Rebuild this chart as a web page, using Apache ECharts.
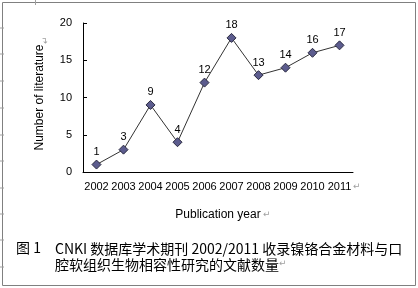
<!DOCTYPE html>
<html>
<head>
<meta charset="utf-8">
<script src="https://cdn.jsdelivr.net/npm/echarts@6/dist/echarts.min.js"></script>
<style>
  html, body { margin: 0; padding: 0; background: #fff; }
  #chart { width: 418px; height: 288px; }
</style>
</head>
<body>
<div id="chart"></div>
<script>
// publication count per year (CNKI)
const years = ["2002", "2003", "2004", "2005", "2006", "2007", "2008", "2009", "2010", "2011"];
const counts = [1, 3, 9, 4, 12, 18, 13, 14, 16, 17];
const yTicks = [0, 5, 10, 15, 20];

const font = "Arial, 'Liberation Sans', sans-serif";
const cjk = "'Noto Sans CJK SC', 'Liberation Sans', sans-serif";
const markGray = "#a0a0a0";

// little paragraph marks down the left edge of the frame
const edgeMarks = [28, 54, 81, 108, 135, 161, 188, 214, 240, 267].map((y) => ({
  type: "line",
  shape: { x1: 0, y1: y, x2: 4, y2: y },
  style: { stroke: markGray, lineWidth: 1 },
}));

const chart = echarts.init(document.getElementById("chart"));
chart.setOption({
  backgroundColor: "#fff",
  animation: false,
  grid: { left: 83, right: 65, top: 23, bottom: 116 },
  xAxis: {
    type: "category",
    data: years,
    boundaryGap: true,
    name: "Publication year",
    nameLocation: "middle",
    nameGap: 37,
    nameTextStyle: { color: "#000", fontSize: 12, fontFamily: font },
    axisLine: { lineStyle: { color: "#000", width: 1 } },
    axisTick: { inside: true, length: 4, alignWithLabel: false, lineStyle: { color: "#000" } },
    axisLabel: { interval: 0, hideOverlap: false, color: "#000", fontSize: 11, fontFamily: font, margin: 9 },
  },
  yAxis: {
    type: "value",
    min: yTicks[0],
    max: yTicks[yTicks.length - 1],
    interval: 5,
    name: "Number of literature",
    nameLocation: "middle",
    nameGap: 37,
    nameRotate: 90,
    nameTextStyle: { color: "#000", fontSize: 12, fontFamily: font },
    axisLine: { show: true, lineStyle: { color: "#000", width: 1 } },
    axisTick: { show: true, inside: true, length: 4, lineStyle: { color: "#000" } },
    axisLabel: { color: "#000", fontSize: 11, fontFamily: font, margin: 11 },
    splitLine: { show: false },
  },
  series: [
    {
      type: "line",
      data: counts,
      symbol: "diamond",
      symbolSize: 9,
      lineStyle: { color: "#333", width: 1 },
      itemStyle: { color: "#5c5c8e", borderColor: "#2a2a40", borderWidth: 1 },
      label: {
        show: true,
        position: "top",
        distance: 2,
        color: "#000",
        fontSize: 11,
        fontFamily: font,
      },
    },
  ],
  graphic: [
    // frame
    {
      type: "rect",
      shape: { x: 2.5, y: 2.5, width: 413, height: 283 },
      style: { fill: null, stroke: "#808080", lineWidth: 1 },
    },
    {
      type: "line",
      shape: { x1: 35.5, y1: 0, x2: 35.5, y2: 5 },
      style: { stroke: markGray, lineWidth: 1 },
    },
    ...edgeMarks,
    // return marks after texts
    { type: "text", x: 353, y: 182, style: { text: "↵", fill: markGray, fontSize: 9, fontFamily: "DejaVu Sans" } },
    { type: "text", x: 263, y: 210, style: { text: "↵", fill: markGray, fontSize: 9, fontFamily: "DejaVu Sans" } },
    { type: "text", x: 41, y: 44, rotation: Math.PI / 2, style: { text: "↵", fill: markGray, fontSize: 9, fontFamily: "DejaVu Sans" } },
    // caption
    {
      type: "text",
      x: 16,
      y: 241,
      style: { text: "图 1", fill: "#000", fontSize: 14, fontFamily: cjk },
    },
    {
      type: "text",
      x: 55,
      y: 241,
      style: {
        text: "CNKI 数据库学术期刊 2002/2011 收录镍铬合金材料与口\n腔软组织生物相容性研究的文献数量",
        fill: "#000",
        fontSize: 14,
        lineHeight: 16,
        fontFamily: cjk,
      },
    },
    { type: "text", x: 279, y: 259, style: { text: "↵", fill: markGray, fontSize: 9, fontFamily: "DejaVu Sans" } },
  ],
});
</script>
</body>
</html>
